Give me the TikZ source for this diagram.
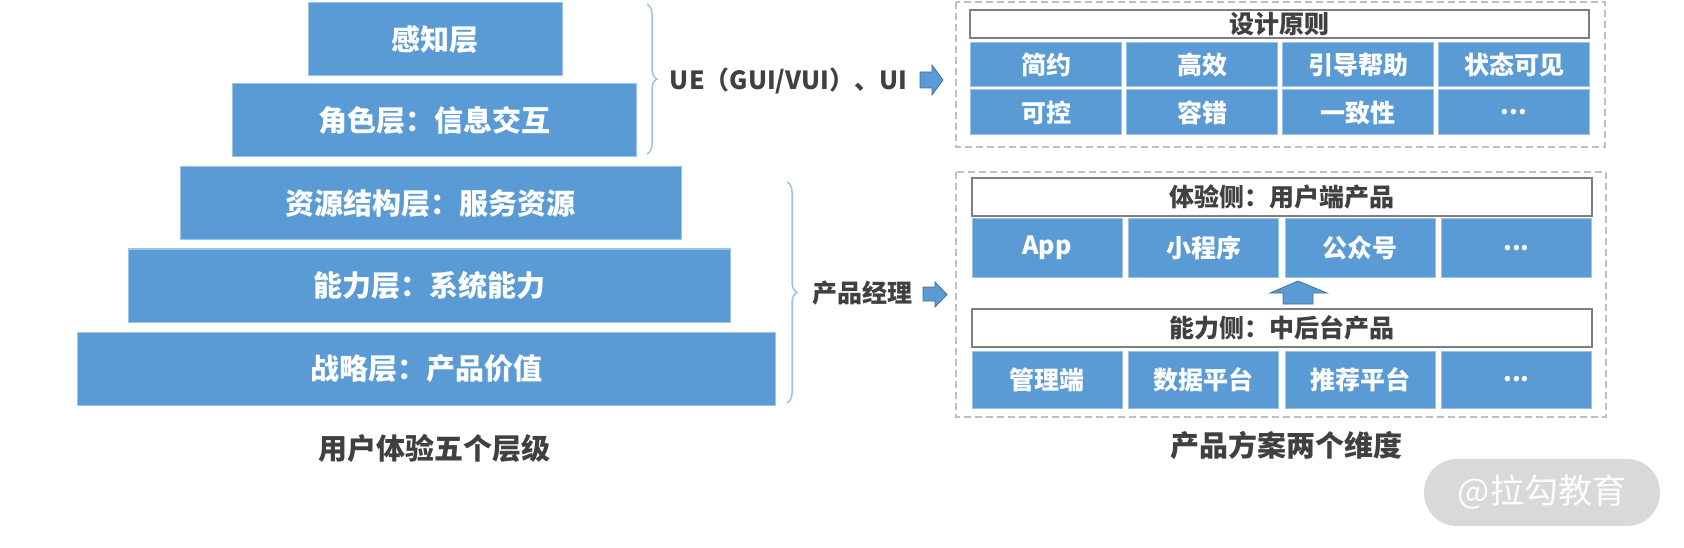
\documentclass[tikz,border=0pt]{standalone}
\usepackage{fontspec}
\setmainfont{Noto Sans CJK SC}
\usetikzlibrary{decorations.pathreplacing}
\definecolor{boxblue}{HTML}{5B9BD5}
\definecolor{boxedge}{HTML}{9DC3E6}
\definecolor{arrowedge}{HTML}{41719C}
\definecolor{headgray}{HTML}{7F7F7F}
\definecolor{framegray}{HTML}{BFBFBF}
\definecolor{textgray}{HTML}{404040}
\definecolor{markgray}{HTML}{D9D9D9}

\tikzset{
  layer/.style={rectangle, draw=boxedge, fill=boxblue, line width=1pt, inner sep=0pt,
    minimum height=73pt, text=white, font=\fontsize{29}{32}\selectfont\bfseries},
  cell/.style={rectangle, draw=boxedge, fill=boxblue, line width=1pt, inner sep=0pt,
    minimum width=151pt, text=white, font=\fontsize{25}{28}\selectfont\bfseries},
  headbox/.style={rectangle, draw=headgray, fill=white, line width=1.5pt, inner sep=0pt,
    text=textgray, font=\fontsize{25}{28}\selectfont\bfseries},
  frame/.style={draw=framegray, dash pattern=on 7pt off 4pt, line width=1.5pt},
  blockarrow/.style={fill=boxblue, draw=arrowedge, line width=0.8pt, line join=miter},
  bracket/.style={draw=boxedge, line width=1.5pt, decorate, decoration={brace, amplitude=10pt}},
  caption/.style={text=textgray, inner sep=0pt, font=\fontsize{29}{32}\selectfont\bfseries},
  sidelabel/.style={text=textgray, inner sep=0pt, font=\fontsize{25}{28}\selectfont\bfseries}
}

\begin{document}
\begin{tikzpicture}[x=1pt, y=-1pt]
  \useasboundingbox (0,0) rectangle (1684,548);

  % pyramid of the five layers
  \node[layer, minimum width=254pt] (perc) at (435,39.5) {感知层};
  \node[layer, minimum width=404pt] (role) at (434,120.5) {角色层：信息交互};
  \node[layer, minimum width=501pt] (res) at (430.5,203.5) {资源结构层：服务资源};
  \node[layer, minimum width=602pt] (abil) at (429,285.5) {能力层：系统能力};
  \node[layer, minimum width=698pt] (strat) at (426,368.5) {战略层：产品价值};
  \node[caption] (ltitle) at (434,448) {用户体验五个层级};

  % brackets and labels
  \coordinate (ue top) at (647,4);
  \coordinate (ue bot) at (647,154);
  \coordinate (pm top) at (787,182);
  \coordinate (pm bot) at (787,403);
  \draw[bracket] (ue top) -- (ue bot);
  \draw[bracket] (pm top) -- (pm bot);
  \node[sidelabel] (ue) at (788.5,81) {UE（GUI/VUI）、UI};
  \node[sidelabel] (pm) at (862.5,293) {产品经理};
  \draw[blockarrow] (920,72) -- (932,72) -- (932,65) -- (943,80) -- (932,95) -- (932,88) -- (920,88) -- cycle;
  \draw[blockarrow] (923,287) -- (935,287) -- (935,282) -- (947,294.5) -- (935,307) -- (935,301) -- (923,301) -- cycle;

  % design principles
  \draw[frame] (956,2) rectangle (1605,147);
  \node[headbox, minimum width=619pt, minimum height=28pt] (princ) at (1279.5,24) {设计原则};
  \node[cell, minimum height=44pt] (simple) at (1046,65) {简约};
  \node[cell, minimum height=44pt] (effic) at (1202,65) {高效};
  \node[cell, minimum height=44pt] (guide) at (1358,65) {引导帮助};
  \node[cell, minimum height=44pt] (state) at (1514,65) {状态可见};
  \node[cell, minimum height=45pt] (ctrl) at (1046,112.5) {可控};
  \node[cell, minimum height=45pt] (fault) at (1202,112.5) {容错};
  \node[cell, minimum height=45pt] (consist) at (1358,112.5) {一致性};
  \node[cell, minimum height=45pt] (more1) at (1514,112.5) {...};

  % two dimensions of the product
  \draw[frame] (956,172) rectangle (1606,417);
  \node[headbox, minimum width=620pt, minimum height=38pt] (exper) at (1282,197) {体验侧：用户端产品};
  \node[cell, minimum height=58pt, minimum width=150pt] (app) at (1047,248) {App};
  \node[cell, minimum height=58pt, minimum width=150pt] (mini) at (1203.5,248) {小程序};
  \node[cell, minimum height=58pt, minimum width=150pt] (offic) at (1360,248) {公众号};
  \node[cell, minimum height=58pt, minimum width=150pt] (more2) at (1516.5,248) {...};
  \draw[blockarrow] (1283,304) -- (1283,293) -- (1270,293) -- (1298,281) -- (1327,293) -- (1313,293) -- (1313,304) -- cycle;
  \node[headbox, minimum width=620pt, minimum height=38pt] (capab) at (1282,328) {能力侧：中后台产品};
  \node[cell, minimum height=57pt, minimum width=150pt] (admin) at (1047,379.5) {管理端};
  \node[cell, minimum height=57pt, minimum width=150pt] (data) at (1203.5,379.5) {数据平台};
  \node[cell, minimum height=57pt, minimum width=150pt] (recom) at (1360,379.5) {推荐平台};
  \node[cell, minimum height=57pt, minimum width=150pt] (more3) at (1516.5,379.5) {...};
  \node[caption] (rtitle) at (1286,445) {产品方案两个维度};

  % watermark
  \node[rectangle, rounded corners=33pt, fill=markgray, minimum width=236pt, minimum height=67pt,
    inner sep=0pt, text=white!96!markgray, font=\fontsize{34}{36}\selectfont] (mark) at (1542,492.5) {@拉勾教育};
\end{tikzpicture}
\end{document}
